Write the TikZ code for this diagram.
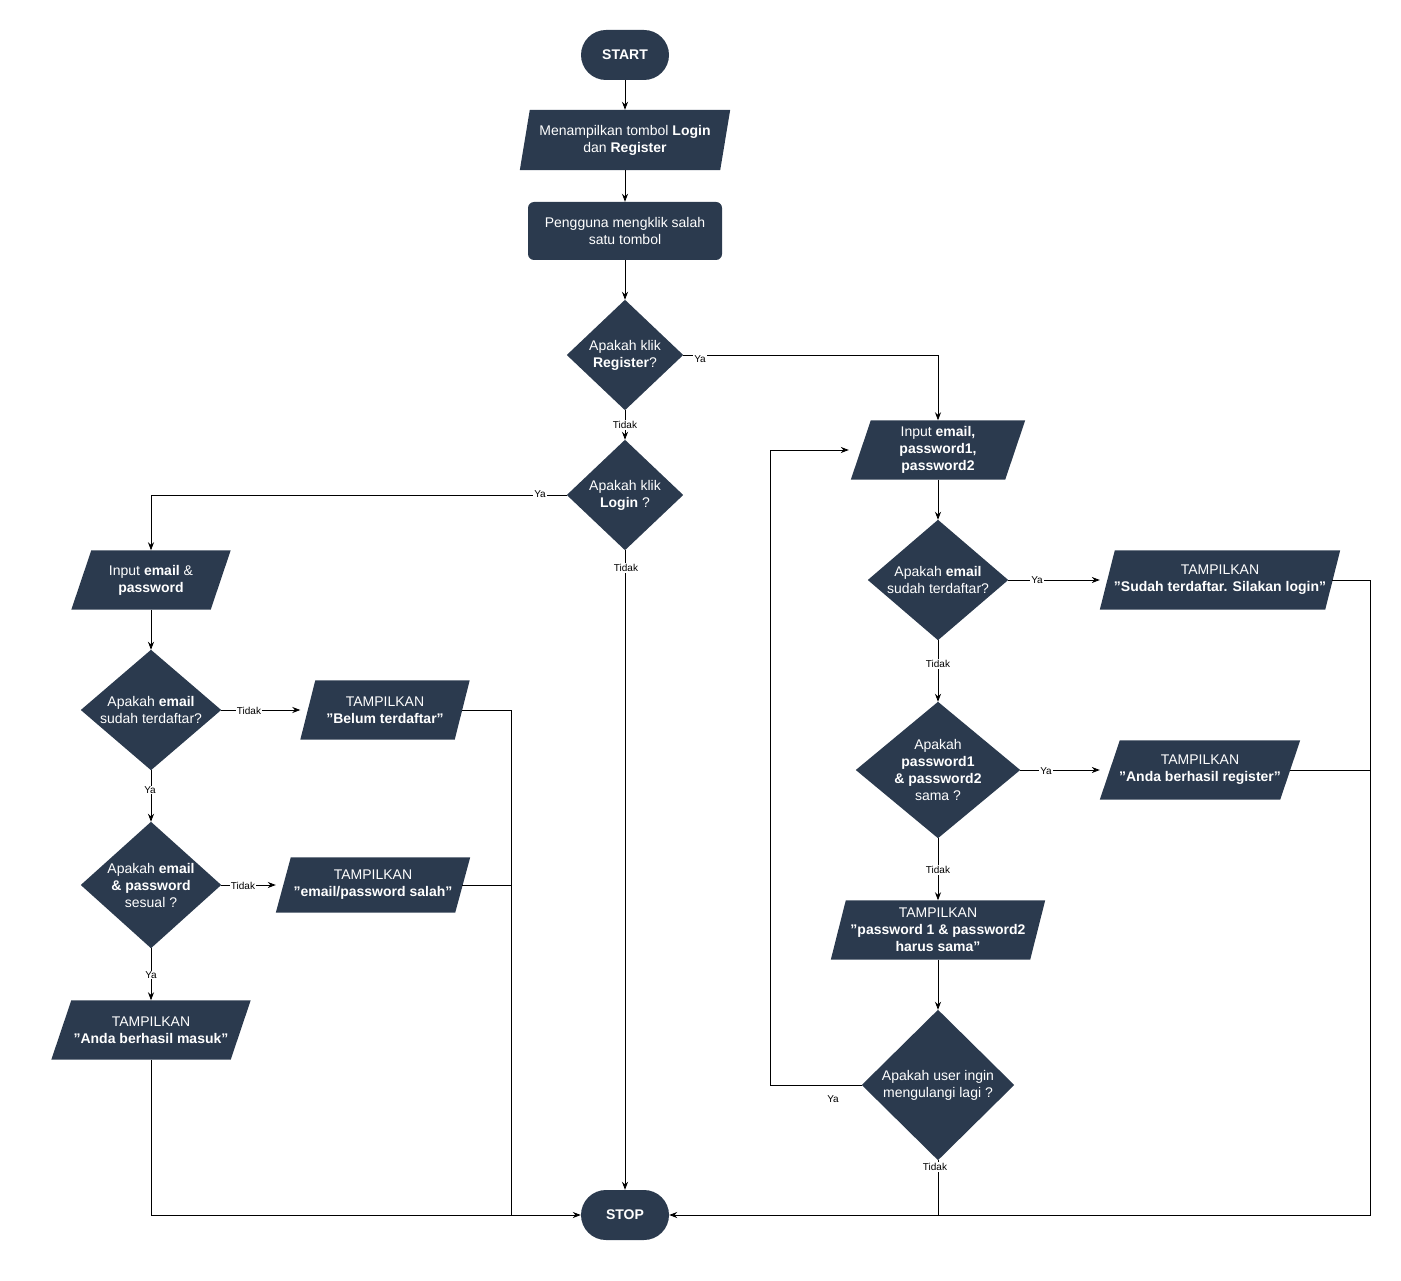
\documentclass[tikz,border=0pt]{standalone}
\usepackage{fontspec}
\setmainfont{Liberation Sans}
\usetikzlibrary{arrows.meta}
\definecolor{nd}{HTML}{2B3A4E}
\newcommand{\para}[7]{% name cx cy w h skew text
  \node[minimum width=#4pt,minimum height=#5pt,inner sep=0pt] (#1) at (#2,#3) {};
  \fill[nd] ([xshift=0pt]#1.south west) -- ([xshift=-#6pt]#1.south east) -- (#1.north east) -- ([xshift=#6pt]#1.north west) -- cycle;
  \node[txt] at (#2,#3) {#7};}
\newcommand{\dia}[6]{% name cx cy hw hh text
  \node[minimum width=#4pt*2,minimum height=#5pt*2,inner sep=0pt] (#1) at (#2,#3) {};
  \fill[nd] (#1.north) -- (#1.east) -- (#1.south) -- (#1.west) -- cycle;
  \node[txt] at (#2,#3) {#6};}
\begin{document}
\begin{tikzpicture}[x=1pt,y=-1pt,
  txt/.style={text=white,font=\fontsize{14}{17}\selectfont,align=center},
  pill/.style={fill=nd,rounded corners=25pt,minimum width=88pt,minimum height=50pt,txt},
  box/.style={fill=nd,rounded corners=6pt,minimum width=194pt,minimum height=58pt,txt},
  ar/.style={-{Stealth[length=8pt,width=6pt]},line width=0.8pt},
  ln/.style={line width=0.8pt},
  lab/.style={fill=white,font=\fontsize{10}{12}\selectfont,inner sep=1pt}]
\useasboundingbox (0,0) rectangle (1401,1281);
\node[pill] (start) at (625,55) {\textbf{START}};
\para{p1}{625}{140}{210}{60}{10}{Menampilkan tombol \textbf{Login}\\dan \textbf{Register}}
\node[box] (r1) at (625,231) {Pengguna mengklik salah\\satu tombol};
\dia{d1}{625}{355}{58}{55}{Apakah klik\\\textbf{Register}?}
\dia{d2}{625}{495}{58}{55}{Apakah klik\\\textbf{Login} ?}
\para{inl}{151}{580}{159}{59}{20}{Input \textbf{email} \&\\\textbf{password}}
\dia{d3}{151}{710}{70}{60}{Apakah \textbf{email}\\sudah terdaftar?}
\para{t1}{385}{710}{169}{59}{15}{TAMPILKAN\\\textbf{"Belum terdaftar"}}
\dia{d4}{151}{885}{70}{63}{Apakah \textbf{email}\\\textbf{\& password}\\sesual ?}
\para{t2}{373}{885}{194}{55}{15}{TAMPILKAN\\\textbf{"email/password salah"}}
\para{t3}{151}{1030}{199}{59}{20}{TAMPILKAN\\\textbf{"Anda berhasil masuk"}}
\node[pill] (stop) at (625,1215) {\textbf{STOP}};
\para{inr}{938}{450}{174}{59}{20}{Input \textbf{email,}\\\textbf{password1,}\\\textbf{password2}}
\dia{d5}{938}{580}{70}{60}{Apakah \textbf{email}\\sudah terdaftar?}
\para{t4}{1220}{580}{240}{59}{15}{TAMPILKAN\\\textbf{"Sudah terdaftar. Silakan login"}}
\dia{d6}{938}{770}{82}{68}{Apakah\\\textbf{password1}\\\textbf{\& password2}\\sama ?}
\para{t5}{1200}{770}{200}{59}{20}{TAMPILKAN\\\textbf{"Anda berhasil register"}}
\para{t6}{938}{930}{214}{59}{15}{TAMPILKAN\\\textbf{"password 1 \& password2}\\\textbf{harus sama"}}
\dia{d7}{938}{1085}{76}{75}{Apakah user ingin\\mengulangi lagi ?}
% edges
\draw[ar] (start) -- (p1);
\draw[ar] (p1) -- (r1);
\draw[ar] (r1) -- (d1.north);
\draw[ar] (d1.east) -- (938,355) -- (inr.north);
\node[lab] at (700,359) {Ya};
\draw[ar] (d1.south) -- (d2.north);
\node[lab] at (625,425) {Tidak};
\draw[ar] (d2.west) -- (151,495) -- (inl.north);
\node[lab] at (540,494) {Ya};
\draw[ar] (d2.south) -- (stop.north);
\node[lab] at (626,568) {Tidak};
\draw[ar] (inl) -- (d3.north);
\draw[ar] (d3.east) -- (t1.west);
\node[lab] at (249,711) {Tidak};
\draw[ar] (d3.south) -- (d4.north);
\node[lab] at (150,790) {Ya};
\draw[ar] (d4.east) -- (t2.west);
\node[lab] at (243,886) {Tidak};
\draw[ar] (d4.south) -- (t3.north);
\node[lab] at (151,975) {Ya};
\draw[ar] (t3.south) -- (151,1215) -- (stop.west);
\draw[ln] ([xshift=-8pt]t1.east) -- (511,710) -- (511,1215);
\draw[ln] ([xshift=-8pt]t2.east) -- (511,885);
\draw[ar] (inr) -- (d5.north);
\draw[ar] (d5.east) -- (t4.west);
\node[lab] at (1037,580) {Ya};
\draw[ar] (d5.south) -- (d6.north);
\node[lab] at (938,664) {Tidak};
\draw[ar] (d6.east) -- (t5.west);
\node[lab] at (1046,771) {Ya};
\draw[ar] (d6.south) -- (t6.north);
\node[lab] at (938,870) {Tidak};
\draw[ar] (t6) -- (d7.north);
\draw[ar] (d7.west) -- (770,1085) -- (770,450) -- ([xshift=-2pt]inr.west);
\node[lab] at (833,1099) {Ya};
\draw[ar] (d7.south) -- (938,1215) -- (stop.east);
\node[lab] at (935,1167) {Tidak};
\draw[ln] ([xshift=-8pt]t4.east) -- (1370,580) -- (1370,1215) -- (938,1215);
\draw[ln] ([xshift=-10pt]t5.east) -- (1370,770);
\end{tikzpicture}
\end{document}
